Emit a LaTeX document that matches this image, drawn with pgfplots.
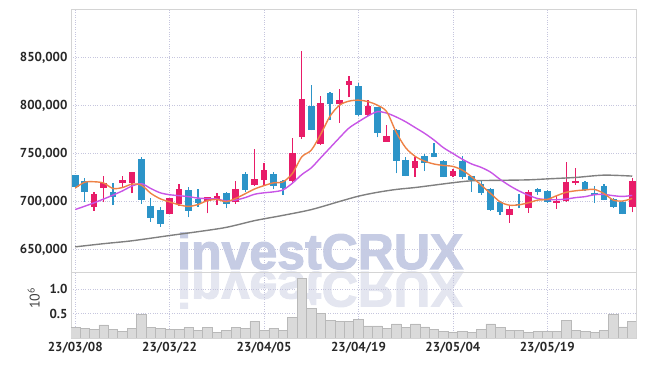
\documentclass[border=0pt]{standalone}
\usepackage{fontspec}
\setmainfont{PT Sans}
\newfontfamily\wmfont[BoldFeatures={FakeBold=2.2}]{Liberation Sans}
\usepackage{pgfplots}
\pgfplotsset{compat=1.18}
\usepackage{pgfplotstable}

\definecolor{upc}{RGB}{232,28,104}
\definecolor{dnc}{RGB}{44,148,200}
\definecolor{maO}{RGB}{238,130,70}
\definecolor{maP}{RGB}{200,85,230}
\definecolor{maG}{RGB}{128,128,128}
\definecolor{gridc}{RGB}{198,198,222}
\definecolor{framec}{RGB}{212,212,212}
\definecolor{volf}{RGB}{218,218,218}
\definecolor{vold}{RGB}{185,185,185}
\definecolor{wm}{RGB}{198,204,228}
\definecolor{wmr}{RGB}{228,230,240}
\definecolor{lab}{RGB}{40,40,40}

% up candles (close > open)
\pgfplotstableread{
i o h l c
2 694400 710000 690200 707600
3 714400 727000 699000 719200
5 719000 726700 714600 722100
6 718800 731000 708500 730300
10 687000 704000 686500 703400
11 697200 718000 695100 712800
14 700600 705000 687500 704500
15 702100 708900 696100 705500
17 699000 721100 697200 712800
19 717000 754500 716300 723200
20 722200 739600 717000 732600
23 721700 766500 719500 750000
24 767600 857200 765000 806500
26 759700 809500 759000 802100
28 801200 816700 782000 805600
29 821700 830400 808500 825300
31 790000 806000 789500 799800
33 762100 779500 762000 768000
36 734400 746500 725800 742000
40 726800 733400 725200 731700
46 685500 694800 677600 692400
48 693100 712100 688000 709700
51 698500 706000 692500 700600
52 700700 741400 699700 720000
53 719000 734500 717200 721400
59 693800 724100 688600 721700
}\uptab

% down candles (close < open)
\pgfplotstableread{
i o h l c
0 727400 728000 714500 715100
1 721100 724600 699600 710000
4 709400 718700 696100 704800
7 744000 745800 697500 701300
8 695100 703200 678800 682300
9 690900 694400 673600 676300
12 711500 714600 683300 689700
13 702700 712500 694400 698200
16 708900 710000 692800 697200
18 728700 730600 709700 711800
21 728400 730200 712500 716300
22 721100 722200 706600 714200
25 799300 821000 774000 774300
27 813000 813900 785000 801700
30 820100 823000 789000 789900
32 797900 798500 766700 770800
34 774300 775000 729200 742300
35 743000 746500 726000 726700
37 747300 749800 731500 740200
38 750300 760400 746000 746200
39 742200 743500 725000 725600
41 742400 747200 723100 725900
42 726600 727000 710300 722400
43 718300 722400 706900 709300
44 713400 714000 690000 691400
45 699000 700000 686200 688600
47 697000 707300 692700 696000
49 713100 714500 707000 709700
50 711000 712000 698000 699000
54 720300 721700 711400 712100
55 709300 716600 698300 706600
56 716600 718000 701000 701700
57 702400 703400 693000 693800
58 699700 700000 686500 687200
}\dntab

% moving averages
\pgfplotstableread{
i ma
0 714000
1 720000
2 720500
3 719200
4 713500
5 714500
6 718000
7 717000
8 708500
9 702800
10 699500
11 696500
12 694800
13 696800
14 700800
15 702000
16 699800
17 703200
18 708000
19 713000
20 716500
21 719400
22 720400
23 729100
24 746500
25 753400
26 770000
27 789000
28 800300
29 804500
30 805500
31 804000
32 800300
33 793400
34 772000
35 756000
36 747000
37 742000
38 739000
39 737500
40 736500
41 732600
42 725600
43 717000
44 708300
45 699600
46 696100
47 696500
48 698600
49 701400
50 702100
51 706000
52 709500
53 711100
54 712000
55 712500
56 708300
57 701400
58 700500
59 703100
}\maotab

\pgfplotstableread{
i ma
0 691600
1 695000
2 698600
3 702500
4 706600
5 711000
6 716000
7 718500
8 713500
9 709000
10 707000
11 706000
12 705000
13 703500
14 703000
15 702500
16 700500
17 701500
18 704000
19 707500
20 709000
21 710000
22 712000
23 719000
24 728000
25 735000
26 745500
27 756000
28 766500
29 776500
30 783000
31 789000
32 793500
33 792000
34 788000
35 783000
36 777000
37 771000
38 764000
39 756000
40 750000
41 744000
42 739000
43 735500
44 730500
45 723000
46 716500
47 711000
48 706500
49 703000
50 702000
51 701800
52 702500
53 704000
54 705000
55 707000
56 707300
57 706000
58 705200
59 706300
}\maptab

\pgfplotstableread{
i ma
0 652700
3 656000
6 659000
10 664500
13 668500
16 673000
19 680000
22 685500
25 691500
28 700000
30 705500
32 709500
34 712500
36 714500
38 717000
40 719500
42 721500
45 722000
48 722500
50 723500
53 725000
56 727400
59 726400
}\magtab

\pgfplotstableread{
i v
0 0.21
1 0.19
2 0.17
3 0.27
4 0.17
5 0.13
6 0.19
7 0.49
8 0.21
9 0.19
10 0.17
11 0.17
12 0.21
13 0.15
14 0.21
15 0.12
16 0.15
17 0.21
18 0.19
19 0.34
20 0.15
21 0.19
22 0.15
23 0.42
24 1.22
25 0.60
26 0.50
27 0.36
28 0.34
29 0.34
30 0.38
31 0.25
32 0.25
33 0.19
34 0.29
35 0.21
36 0.29
37 0.23
38 0.17
39 0.13
40 0.11
41 0.13
42 0.11
43 0.17
44 0.29
45 0.21
46 0.15
47 0.15
48 0.11
49 0.13
50 0.13
51 0.13
52 0.36
53 0.15
54 0.13
55 0.11
56 0.15
57 0.49
58 0.23
59 0.34
}\voltab

\pgfplotsset{
  chartbase/.style={
    scale only axis, width=565pt, xmin=-0.45, xmax=59.4,
    axis line style={framec, line width=0.8pt},
    tick style={draw=none},
    grid style={gridc, dotted, line width=0.7pt},
    xmajorgrids, ymajorgrids,
    xtick={0,10,20,30,40,50},
    tick label style={font=\fontsize{13}{13}\selectfont\bfseries, text=lab},
    /pgf/number format/assume math mode=true,
    clip=true,
  },
}

\begin{document}
\begin{tikzpicture}[x=1pt,y=1pt]
\useasboundingbox (0,0) rectangle (645,366);

% watermark and its reflection
\node[anchor=base west, inner sep=0pt, text=wm,
  font=\wmfont\bfseries\fontsize{50}{50}\selectfont] at (177,97) {investCRUX};
\node[anchor=base west, inner sep=0pt, text=wmr, yscale=-1,
  font=\wmfont\bfseries\fontsize{50}{50}\selectfont] at (177,94) {investCRUX};

% price panel
\begin{axis}[chartbase,
  at={(71pt,94pt)}, anchor=south west, height=263pt,
  ymin=626500, ymax=900500,
  ytick={650000,700000,750000,800000,850000},
  scaled y ticks=false,
  yticklabel style={/pgf/number format/.cd, fixed, 1000 sep={,}},
  xticklabels={},
]
% wicks
\addplot[upc, line width=1.3pt, mark=none,
  quiver={u=0, v=\thisrow{h}-\thisrow{l}, every arrow/.append style={line width=1.3pt}}]
  table[x=i, y=l] {\uptab};
\addplot[dnc, line width=1.3pt, mark=none,
  quiver={u=0, v=\thisrow{h}-\thisrow{l}, every arrow/.append style={line width=1.3pt}}]
  table[x=i, y=l] {\dntab};
% bodies
\addplot[upc, line width=6.6pt, mark=none,
  quiver={u=0, v=\thisrow{c}-\thisrow{o}, every arrow/.append style={line width=6.6pt}}]
  table[x=i, y=o] {\uptab};
\addplot[dnc, line width=6.6pt, mark=none,
  quiver={u=0, v=\thisrow{c}-\thisrow{o}, every arrow/.append style={line width=6.6pt}}]
  table[x=i, y=o] {\dntab};
% moving averages
\addplot[maG, line width=1.4pt, smooth, mark=none] table[x=i, y=ma] {\magtab};
\addplot[maP, line width=1.4pt, smooth, mark=none] table[x=i, y=ma] {\maptab};
\addplot[maO, line width=1.4pt, smooth, mark=none] table[x=i, y=ma] {\maotab};
\end{axis}

% volume panel
\begin{axis}[chartbase,
  at={(71pt,28pt)}, anchor=south west, height=66pt,
  ymin=0, ymax=1.35,
  ytick={0.5,1.0}, yticklabels={0.5,1.0},
  xticklabels={23/03/08,23/03/22,23/04/05,23/04/19,23/05/04,23/05/19},
  xticklabel style={yshift=-1pt},
  ylabel={10\textsuperscript{6}},
  ylabel style={at={(axis description cs:-0.066,0.6)}, anchor=center, text=black!75, font=\fontsize{14}{14}\selectfont},
]
\addplot[ybar, bar width=1, fill=volf, draw=vold, line width=0.5pt] table[x=i, y=v] {\voltab};
\end{axis}
\end{tikzpicture}
\end{document}
